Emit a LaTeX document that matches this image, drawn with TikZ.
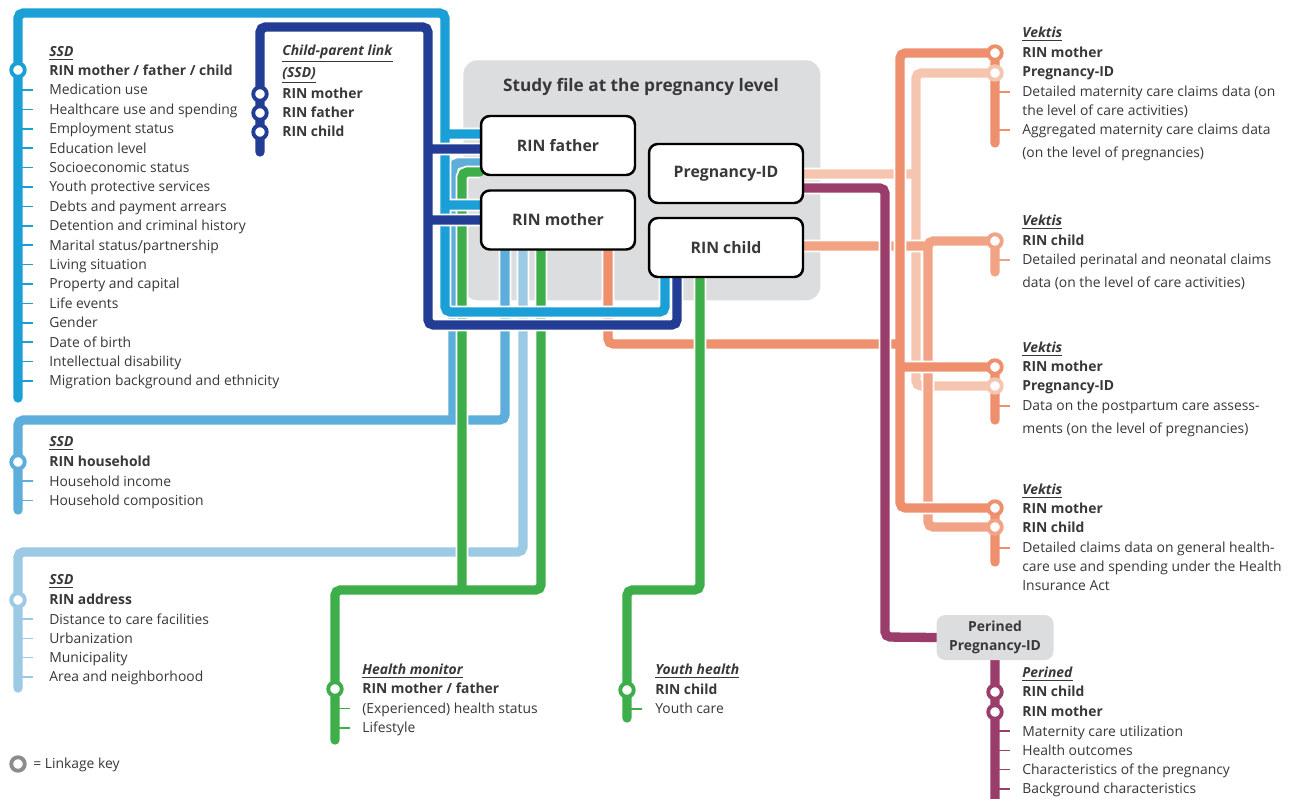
\documentclass[tikz,border=0pt]{standalone}
\usepackage{fontspec}
\setmainfont{Open Sans}
\usetikzlibrary{positioning}

\definecolor{ssdblue}{HTML}{1A9FD6}
\definecolor{cpnavy}{HTML}{233D94}
\definecolor{hhblue}{HTML}{5DAEDB}
\definecolor{adblue}{HTML}{9CCAE5}
\definecolor{hmgreen}{HTML}{3DAE4A}
\definecolor{vkorange}{HTML}{EE8F6E}
\definecolor{vkpale}{HTML}{F6C5B0}
\definecolor{vkchild}{HTML}{F2A385}
\definecolor{pnpurple}{HTML}{9B3D6B}
\definecolor{filegray}{HTML}{DCDDDE}
\definecolor{inkgray}{HTML}{383838}
\definecolor{keygray}{HTML}{8C8C8C}

\newcommand\srchead[1]{\underline{\textbf{\textit{#1}}}}

\pgfdeclarelayer{bg}
\pgfdeclarelayer{lines}
\pgfsetlayers{bg,lines,main}

\begin{document}
\begin{tikzpicture}[
  x=0.02cm, y=-0.02cm,
  metro/.style={draw=#1, line width=5.3pt, rounded corners=3pt, line cap=round, preaction={draw=white, line width=7.3pt}},
  station/.style={circle, draw=#1, fill=white, line width=2.2pt, minimum size=0.27cm, inner sep=0pt},
  tick/.style={draw=#1, line width=1pt},
  item/.style={anchor=base west, yshift=-2.8pt, inner sep=0pt, text=inkgray, font=\fontsize{7.9}{9}\selectfont},
  keyitem/.style={item, font=\bfseries\fontsize{7.9}{9}\selectfont},
  keybox/.style={draw=black, line width=1.4pt, fill=white, rounded corners=5pt, minimum width=3.08cm, minimum height=1.18cm, text=inkgray, font=\bfseries\fontsize{9}{11}\selectfont}
]
  \useasboundingbox (0,0) rectangle (1295,798);

  % study file
  \begin{pgfonlayer}{bg}
    \fill[white] (0,0) rectangle (1295,798);
    \node[fill=filegray, rounded corners=8pt, minimum width=7.14cm, minimum height=4.8cm, anchor=north west] (study) at (463,60) {};
  \end{pgfonlayer}
  \node[text=inkgray, font=\bfseries\fontsize{9.8}{12}\selectfont] (studyT) at (641,87) {Study file at the pregnancy level};
  \node[keybox] (father) at (558,145.5) {RIN father};
  \node[keybox] (mother) at (558,220) {RIN mother};
  \node[keybox] (preg) at (726,173.5) {Pregnancy-ID};
  \node[keybox] (child) at (726,247.5) {RIN child};

  % SSD persons
  \node[station=ssdblue] (ssdK) at (18,70) {};
  \node[item] (ssdH) at (49,52) {\srchead{SSD}};
  \node[keyitem] (ssdL) at (49,71) {RIN mother / father / child};
  \foreach \t [count=\i] in {Medication use, Healthcare use and spending, Employment status, Education level, Socioeconomic status, Youth protective services, Debts and payment arrears, Detention and criminal history, Marital status/partnership, Living situation, Property and capital, Life events, Gender, Date of birth, Intellectual disability, Migration background and ethnicity}
  {
    \node[item] (ssd\i) at (49,70.6+19.4*\i) {\t};
    \draw[tick=ssdblue] (18,70.6+19.4*\i) -- ++(15,0);
  }

  % child-parent link
  \node[item] (cpH1) at (282,51) {\srchead{Child-parent link}};
  \node[item] (cpH2) at (282,73) {\srchead{(SSD)}};
  \foreach \n/\t/\y in {cpM/RIN mother/94, cpF/RIN father/113, cpC/RIN child/132}
  {
    \node[station=cpnavy] (\n) at (260,\y) {};
    \node[keyitem] (\n-t) at (282,\y) {\t};
  }

  % household
  \node[station=hhblue] (hhK) at (18,462) {};
  \node[item] (hhH) at (49,442) {\srchead{SSD}};
  \node[keyitem] (hhL) at (49,462) {RIN household};
  \foreach \t [count=\i] in {Household income, Household composition}
  {
    \node[item] (hh\i) at (49,462+19.2*\i) {\t};
    \draw[tick=hhblue] (18,462+19.2*\i) -- ++(15,0);
  }

  % address
  \node[station=adblue] (adK) at (18,600) {};
  \node[item] (adH) at (49,580) {\srchead{SSD}};
  \node[keyitem] (adL) at (49,600) {RIN address};
  \foreach \t [count=\i] in {Distance to care facilities, Urbanization, Municipality, Area and neighborhood}
  {
    \node[item] (ad\i) at (49,600+19.2*\i) {\t};
    \draw[tick=adblue] (18,600+19.2*\i) -- ++(15,0);
  }

  % health monitor
  \node[station=hmgreen] (hmK) at (335,689) {};
  \node[item] (hmH) at (362,670) {\srchead{Health monitor}};
  \node[keyitem] (hmL) at (362,689) {RIN mother / father};
  \foreach \t [count=\i] in {(Experienced) health status, Lifestyle}
  {
    \node[item] (hm\i) at (362,689+19.4*\i) {\t};
    \draw[tick=hmgreen] (335,689+19.4*\i) -- ++(15,0);
  }

  % youth health
  \node[station=hmgreen] (yhK) at (627,690) {};
  \node[item] (yhH) at (655,670) {\srchead{Youth health}};
  \node[keyitem] (yhL) at (655,690) {RIN child};
  \node[item] (yh1) at (655,709) {Youth care};
  \draw[tick=hmgreen] (627,709) -- ++(15,0);

  % Vektis 1
  \node[station=vkorange] (v1M) at (995,53) {};
  \node[station=vkpale] (v1P) at (995,73) {};
  \node[item] (v1H) at (1022,33) {\srchead{Vektis}};
  \node[keyitem] (v1a) at (1022,53) {RIN mother};
  \node[keyitem] (v1b) at (1022,72) {Pregnancy-ID};
  \node[item] (v1c) at (1022,92) {Detailed maternity care claims data (on};
  \node[item] (v1d) at (1022,111) {the level of care activities)};
  \node[item] (v1e) at (1022,130) {Aggregated maternity care claims data};
  \node[item] (v1f) at (1022,153) {(on the level of pregnancies)};
  \draw[tick=vkorange] (995,92) -- ++(15,0) (995,130) -- ++(15,0);

  % Vektis 2
  \node[station=vkchild] (v2C) at (995,241) {};
  \node[item] (v2H) at (1022,221) {\srchead{Vektis}};
  \node[keyitem] (v2a) at (1022,241) {RIN child};
  \node[item] (v2b) at (1022,260) {Detailed perinatal and neonatal claims};
  \node[item] (v2c) at (1022,283) {data (on the level of care activities)};
  \draw[tick=vkchild] (995,260) -- ++(15,0);

  % Vektis 3
  \node[station=vkorange] (v3M) at (995,367) {};
  \node[station=vkpale] (v3P) at (995,386) {};
  \node[item] (v3H) at (1022,348) {\srchead{Vektis}};
  \node[keyitem] (v3a) at (1022,367) {RIN mother};
  \node[keyitem] (v3b) at (1022,386) {Pregnancy-ID};
  \node[item] (v3c) at (1022,406) {Data on the postpartum care assess-};
  \node[item] (v3d) at (1022,429) {ments (on the level of pregnancies)};
  \draw[tick=vkorange] (995,406) -- ++(15,0);

  % Vektis 4
  \node[station=vkorange] (v4M) at (995,508) {};
  \node[station=vkchild] (v4C) at (995,527) {};
  \node[item] (v4H) at (1022,490) {\srchead{Vektis}};
  \node[keyitem] (v4a) at (1022,509) {RIN mother};
  \node[keyitem] (v4b) at (1022,528) {RIN child};
  \node[item] (v4c) at (1022,548) {Detailed claims data on general health-};
  \node[item] (v4d) at (1022,567) {care use and spending under the Health};
  \node[item] (v4e) at (1022,586) {Insurance Act};
  \draw[tick=vkorange] (995,548) -- ++(15,0);

  % Perined
  \node[fill=filegray, rounded corners=5pt, minimum width=2.34cm, minimum height=0.9cm, align=center, inner sep=1pt, text=inkgray, font=\bfseries\fontsize{7.9}{10.5}\selectfont] (perined) at (995,637.5) {Perined\\Pregnancy-ID};
  \node[station=pnpurple] (peC) at (995,692) {};
  \node[station=pnpurple] (peM) at (995,712) {};
  \node[item] (peH) at (1022,673) {\srchead{Perined}};
  \node[keyitem] (pea) at (1022,692) {RIN child};
  \node[keyitem] (peb) at (1022,712) {RIN mother};
  \foreach \t [count=\i] in {Maternity care utilization, Health outcomes, Characteristics of the pregnancy, Background characteristics}
  {
    \node[item] (pe\i) at (1022,712+19.2*\i) {\t};
    \draw[tick=pnpurple] (995,712+19.2*\i) -- ++(15,0);
  }

  % legend
  \node[station=keygray] (key) at (18,764) {};
  \node[item] (keyT) at (33,764) {= Linkage key};

  \begin{pgfonlayer}{lines}
    \draw[metro=adblue] (18,688) -- (adK.center) -- (18,552) -- (523,552) -- (mother.south -| 523,0);
    \draw[metro=hhblue] (18,510) -- (hhK.center) -- (18,420) -- (505,420) -- (mother.south -| 505,0)
      (453,420) -- (453,163) -- (father.west |- 0,163);
    \draw[metro=vkpale] (preg.east |- 0,174) -- (916,174)
      (v1P.center) -- (916,73) -- (916,386) -- (v3P.center);
    \draw[metro=vkchild] (child.east |- 0,246) -- (928,246)
      (v2C.center) -- (928,241) -- (928,527) -- (v4C.center)
      (v2C.center) -- (995,272);
    \draw[metro=vkorange] (mother.south -| 608,0) -- (608,344) -- (900,344)
      (v1M.center) -- (900,53) -- (900,508) -- (v4M.center)
      (900,367) -- (v3M.center)
      (v1M.center) -- (995,143)
      (v3M.center) -- (995,420)
      (v4M.center) -- (995,562);
    \draw[metro=pnpurple] (preg.east |- 0,188) -- (885,188) -- (885,637) -- (perined.west)
      (perined.south) -- (peC.center) -- (peM.center) -- (995,800);
    \draw[metro=hmgreen] (335,740) -- (hmK.center) -- (335,590) -- (541,590) -- (mother.south -| 541,0)
      (462,590) -- (462,172) -- (father.west |- 0,172)
      (627,718) -- (yhK.center) -- (627,590) -- (700,590) -- (child.south -| 700,0);
    \draw[metro=ssdblue] (18,398) -- (ssdK.center) -- (18,13) -- (445,13) -- (445,312) -- (665,312) -- (child.south -| 665,0)
      (445,134) -- (father.west |- 0,134)
      (445,205) -- (mother.west |- 0,205);
    \draw[metro=cpnavy] (260,152) -- (cpC.center) -- (cpM.center) -- (260,27) -- (428,27) -- (428,325) -- (677,325) -- (child.south -| 677,0)
      (428,149) -- (father.west |- 0,149)
      (428,220) -- (mother.west |- 0,220);
  \end{pgfonlayer}
\end{tikzpicture}
\end{document}
